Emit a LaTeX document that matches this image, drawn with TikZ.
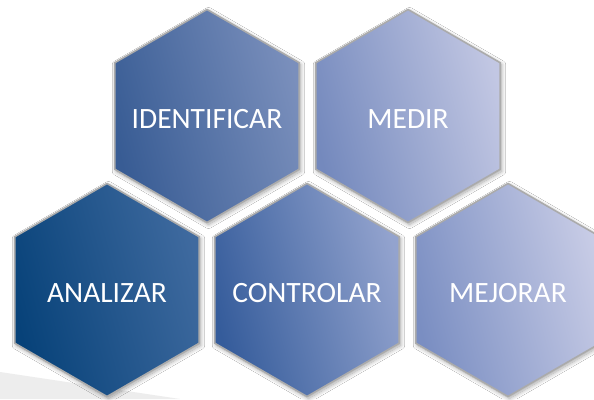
\documentclass[tikz,border=0pt]{standalone}
\usepackage{fontspec}
\setmainfont{Carlito}
\usetikzlibrary{shapes.geometric,shadows.blur}
\definecolor{anA}{HTML}{074279}
\definecolor{anB}{HTML}{3F6A9F}
\definecolor{idA}{HTML}{385C94}
\definecolor{idB}{HTML}{7A8FBC}
\definecolor{meA}{HTML}{7489BD}
\definecolor{meB}{HTML}{C2C7E3}
\definecolor{coA}{HTML}{355C9B}
\definecolor{coB}{HTML}{93A3CE}
\definecolor{mjA}{HTML}{7A8EC2}
\definecolor{mjB}{HTML}{C8CCE6}
\tikzset{
  hexa/.style 2 args={regular polygon, regular polygon sides=6, shape border rotate=30,
    minimum size=213pt, inner sep=0pt, draw=black!33, line width=1.6pt,
    left color=#1, right color=#2, shading angle=105,
    blur shadow={shadow xshift=1.5pt, shadow yshift=-2pt, shadow opacity=35, shadow blur steps=10, shadow blur radius=4pt}},
  hlab/.style={text=white, font=\fontsize{29.5}{30}\selectfont, inner sep=0pt, yshift=-3pt}
}
\begin{document}
\begin{tikzpicture}[x=1pt,y=-1pt]
\useasboundingbox (0,0) rectangle (594,399);
\fill[white] (0,0) rectangle (594,399);
\fill[black!7] (0,372) -- (180,399) -- (0,399) -- cycle;
\node[hexa={idA}{idB}, label={[hlab]center:IDENTIFICAR}] (ident) at (207,116) {};
\node[hexa={meA}{meB}, label={[hlab]center:MEDIR}] (medir) at (408,116) {};
\node[hexa={anA}{anB}, label={[hlab]center:ANALIZAR}] (anal) at (107,290) {};
\node[hexa={coA}{coB}, label={[hlab]center:CONTROLAR}] (contr) at (307,290) {};
\node[hexa={mjA}{mjB}, label={[hlab]center:MEJORAR}] (mejor) at (508,290) {};
\end{tikzpicture}
\end{document}
